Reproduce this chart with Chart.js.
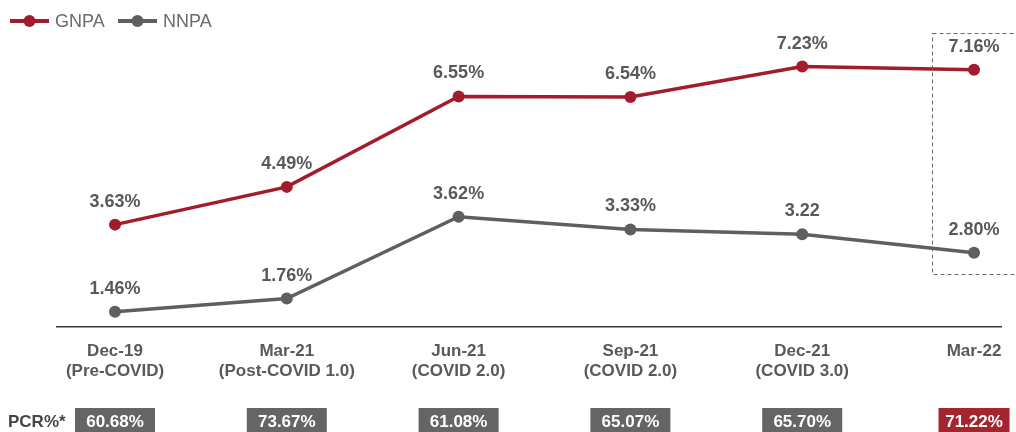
<!DOCTYPE html>
<html>
<head>
<meta charset="utf-8">
<script src="https://cdn.jsdelivr.net/npm/chart.js@4/dist/chart.umd.min.js"></script>
<style>
html,body{margin:0;padding:0;background:#fff;}
#wrap{width:1016px;height:432px;position:relative;}
</style>
</head>
<body>
<div id="wrap"><canvas id="c" width="1016" height="432"></canvas></div>
<script>
const categories = [['Dec-19','(Pre-COVID)'],['Mar-21','(Post-COVID 1.0)'],['Jun-21','(COVID 2.0)'],['Sep-21','(COVID 2.0)'],['Dec-21','(COVID 3.0)'],['Mar-22']];
const gnpa = [3.63, 4.49, 6.55, 6.54, 7.23, 7.16];
const nnpa = [1.46, 1.76, 3.62, 3.33, 3.22, 2.80];
const gnpaLabels = ['3.63%','4.49%','6.55%','6.54%','7.23%','7.16%'];
const nnpaLabels = ['1.46%','1.76%','3.62%','3.33%','3.22','2.80%'];
const pcr = ['60.68%','73.67%','61.08%','65.07%','65.70%','71.22%'];
const seriesNames = ['GNPA','NNPA'];

const RED = '#a21c2b';
const GREY = '#5e5f61';
const TXT = '#595959';
const FONT = '"Liberation Sans", Arial, sans-serif';

const overlay = {
  id: 'overlay',
  afterDatasetsDraw(chart) {
    const ctx = chart.ctx;
    const xs = chart.scales.x;
    ctx.save();
    // value labels
    ctx.font = 'bold 18px ' + FONT;
    ctx.fillStyle = TXT;
    ctx.textAlign = 'center';
    ctx.textBaseline = 'middle';
    [gnpaLabels, nnpaLabels].forEach((labs, di) => {
      const meta = chart.getDatasetMeta(di);
      meta.data.forEach((pt, i) => {
        ctx.fillText(labs[i], pt.x, pt.y - 23);
      });
    });
    // dashed highlight box around last category
    const lx = xs.getPixelForValue(categories.length - 1);
    ctx.setLineDash([4, 3]);
    ctx.strokeStyle = '#6a6a6a';
    ctx.lineWidth = 1;
    ctx.strokeRect(lx - 41.5, 33.5, 120, 241);
    ctx.setLineDash([]);
    // legend
    const legend = [[seriesNames[0], RED, 10, 55], [seriesNames[1], GREY, 118, 163]];
    legend.forEach(([name, col, x0, tx]) => {
      ctx.strokeStyle = col;
      ctx.lineWidth = 4;
      ctx.beginPath(); ctx.moveTo(x0, 21); ctx.lineTo(x0 + 39, 21); ctx.stroke();
      ctx.fillStyle = col;
      ctx.beginPath(); ctx.arc(x0 + 19.5, 21, 6, 0, Math.PI * 2); ctx.fill();
      ctx.fillStyle = '#6b6b6b';
      ctx.font = '18px ' + FONT;
      ctx.textAlign = 'left';
      ctx.textBaseline = 'middle';
      ctx.fillText(name, tx, 22);
    });
    // PCR row
    ctx.font = 'bold 17px ' + FONT;
    ctx.fillStyle = '#454545';
    ctx.textAlign = 'left';
    ctx.fillText('PCR%*', 8, 422);
    pcr.forEach((t, i) => {
      const cx = xs.getPixelForValue(i);
      const last = i === pcr.length - 1;
      const w = last ? 71 : 80;
      ctx.fillStyle = last ? '#a3262f' : '#646567';
      ctx.fillRect(cx - w / 2, 408, w, 24);
      ctx.fillStyle = '#ffffff';
      ctx.textAlign = 'center';
      ctx.fillText(t, cx, 422);
    });
    ctx.restore();
  }
};

new Chart(document.getElementById('c'), {
  type: 'line',
  data: {
    datasets: [
      { label: seriesNames[0], data: gnpa.map((v, i) => ({x: i, y: v})), yAxisID: 'y',
        borderColor: RED, backgroundColor: RED, borderWidth: 3.5, pointRadius: 6, pointHoverRadius: 6,
        pointBackgroundColor: RED, pointBorderWidth: 0, tension: 0, clip: false },
      { label: seriesNames[1], data: nnpa.map((v, i) => ({x: i, y: v})), yAxisID: 'y2',
        borderColor: GREY, backgroundColor: GREY, borderWidth: 3.5, pointRadius: 6, pointHoverRadius: 6,
        pointBackgroundColor: GREY, pointBorderWidth: 0, tension: 0, clip: false }
    ]
  },
  options: {
    responsive: false,
    animation: false,
    layout: { autoPadding: false, padding: { top: 0, left: 57, right: 15, bottom: 0 } },
    plugins: { legend: { display: false }, tooltip: { enabled: false } },
    scales: {
      x: {
        type: 'linear', min: -0.3376, max: 5.157,
        afterBuildTicks: (ax) => { ax.ticks = categories.map((c, i) => ({ value: i })); },
        afterFit: (ax) => { ax.height = 105; },
        grid: { display: false, drawTicks: false },
        border: { display: true, color: '#3a3a3a', width: 1.5 },
        ticks: {
          autoSkip: false, maxRotation: 0, padding: 14,
          color: TXT, font: { family: FONT, size: 17, weight: 'bold', lineHeight: 1.2 },
          callback: (v) => categories[v]
        }
      },
      y: { display: false, min: 1.298, max: 8.747 },
      y2: { display: false, min: 1.114, max: 8.546 }
    }
  },
  plugins: [overlay]
});
</script>
</body>
</html>
